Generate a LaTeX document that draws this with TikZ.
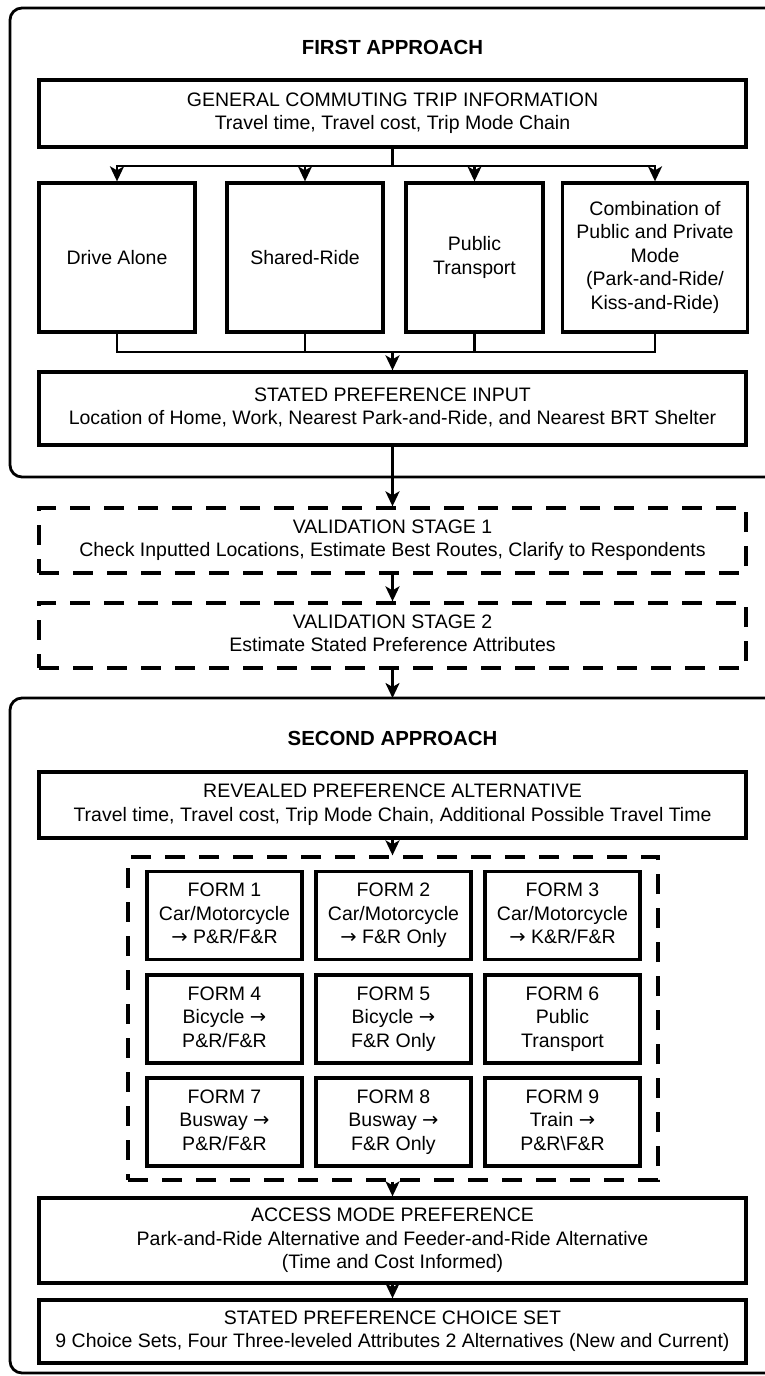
\documentclass[tikz,border=0pt]{standalone}
\usepackage{fontspec}
\setmainfont{Liberation Sans}
\newfontfamily\arrowfont{DejaVu Sans}
\newcommand{\toarrow}{{\arrowfont →}}
\newcommand{\boxstrut}{\rule[-4.5pt]{0pt}{23.5pt}}
\usetikzlibrary{arrows.meta}

\begin{document}
\begin{tikzpicture}[x=1pt,y=-1pt,
  box/.style={draw,line width=3.3pt,align=center,inner sep=0pt,
    font=\fontsize{19.5}{23.5}\selectfont,
    execute at begin node=\boxstrut,execute at end node=\boxstrut},
  widebox/.style={box,minimum width=707},
  dashbox/.style={widebox,dash pattern=on 20pt off 14pt},
  modebox/.style={box,minimum height=149},
  formbox/.style={box,minimum width=155,minimum height=88},
  heading/.style={font=\fontsize{20.4}{24}\selectfont\bfseries},
  group/.style={draw,line width=2.8pt,rounded corners=12pt},
  wire/.style={line width=2.6pt,line cap=rect},
  link/.style={line width=2.6pt,-{Stealth[length=15pt,width=14pt,inset=4pt]}}]
\useasboundingbox (0,0) rectangle (765,1376);

\draw[group] (10,8) rectangle (778,477);
\draw[group] (10,698) rectangle (778,1373);

\node[heading] (title1) at (392.5,47) {FIRST APPROACH};
\node[widebox,minimum height=67] (gen) at (392.5,113.5)
  {GENERAL COMMUTING TRIP INFORMATION\\Travel time, Travel cost, Trip Mode Chain};

\node[modebox,minimum width=156] (m1) at (117,257.5) {Drive Alone};
\node[modebox,minimum width=156] (m2) at (305,257.5) {Shared-Ride};
\node[modebox,minimum width=137] (m3) at (474.5,257.5) {Public\\Transport};
\node[modebox,minimum width=185] (m4) at (655,257.5)
  {Combination of\\Public and Private\\Mode\\(Park-and-Ride/\\Kiss-and-Ride)};

\node[widebox,minimum height=73] (input) at (392.5,408.5)
  {STATED PREFERENCE INPUT\\Location of Home, Work, Nearest Park-and-Ride, and Nearest BRT Shelter};

\node[dashbox,minimum height=65] (val1) at (392.5,540.5)
  {VALIDATION STAGE 1\\Check Inputted Locations, Estimate Best Routes, Clarify to Respondents};
\node[dashbox,minimum height=65] (val2) at (392.5,635.5)
  {VALIDATION STAGE 2\\Estimate Stated Preference Attributes};

\coordinate (top2) at (392.5,698);
\node[heading] (title2) at (392.5,738) {SECOND APPROACH};
\node[widebox,minimum height=66] (reveal) at (392.5,805)
  {REVEALED PREFERENCE ALTERNATIVE\\Travel time, Travel cost, Trip Mode Chain, Additional Possible Travel Time};

\node[box,dash pattern=on 20pt off 14pt,minimum width=530,minimum height=323] (forms) at (393,1018.5) {};
\node[formbox] (f1) at (224.5,915.5) {FORM 1\\Car/Motorcycle\\\toarrow{} P\&R/F\&R};
\node[formbox] (f2) at (393.5,915.5) {FORM 2\\Car/Motorcycle\\\toarrow{} F\&R Only};
\node[formbox] (f3) at (562.5,915.5) {FORM 3\\Car/Motorcycle\\\toarrow{} K\&R/F\&R};
\node[formbox] (f4) at (224.5,1019) {FORM 4\\Bicycle \toarrow\\P\&R/F\&R};
\node[formbox] (f5) at (393.5,1019) {FORM 5\\Bicycle \toarrow\\F\&R Only};
\node[formbox] (f6) at (562.5,1019) {FORM 6\\Public\\Transport};
\node[formbox] (f7) at (224.5,1122) {FORM 7\\Busway \toarrow\\P\&R/F\&R};
\node[formbox] (f8) at (393.5,1122) {FORM 8\\Busway \toarrow\\F\&R Only};
\node[formbox] (f9) at (562.5,1122) {FORM 9\\Train \toarrow\\P\&R\textbackslash F\&R};

\node[widebox,minimum height=85] (access) at (392.5,1240.5)
  {ACCESS MODE PREFERENCE\\Park-and-Ride Alternative and Feeder-and-Ride Alternative\\(Time and Cost Informed)};
\node[widebox,minimum height=63] (choice) at (392.5,1331.5)
  {STATED PREFERENCE CHOICE SET\\9 Choice Sets, Four Three-leveled Attributes 2 Alternatives (New and Current)};

\coordinate (split) at (392.5,166);
\coordinate (join) at (392.5,352);
\draw[wire] (gen) -- (split);
\draw[wire] (split -| m1) -- (split -| m4);
\foreach \m in {m1,m2,m3,m4}
  \draw[link] (split -| \m) -- (\m);
\draw[wire] (m1) -- (m1 |- join) -- (m4 |- join) -- (m4);
\draw[wire] (m2) -- (m2 |- join);
\draw[wire] (m3) -- (m3 |- join);
\draw[link] (join) -- (input);

\draw[link] (input) -- (val1);
\draw[link] (val1) -- (val2);
\draw[link] (val2) -- (top2);
\draw[link] (reveal) -- (reveal |- forms.north);
\draw[link] (reveal |- forms.south) -- (access);
\draw[link] (access) -- (choice);
\end{tikzpicture}
\end{document}
